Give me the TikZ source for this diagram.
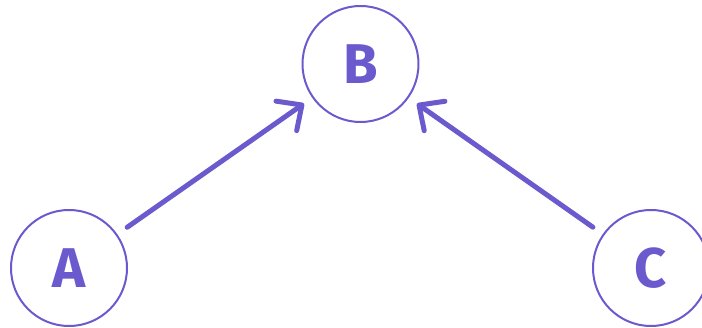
\documentclass[tikz,border=0pt]{standalone}
\usepackage{fontspec}
\setmainfont{Fira Sans}
\usetikzlibrary{arrows.meta}
\definecolor{violet}{HTML}{6A5ACD}
\tikzset{
  letter/.style={circle, draw=violet, line width=2pt, minimum size=116pt, inner sep=0pt,
    text=violet, font=\fontsize{56}{60}\selectfont\bfseries},
  link/.style={draw=violet, line width=5pt, line cap=round,
    -{Straight Barb[length=19pt, width=36pt, line cap=round, line join=round]},
    shorten <=12pt, shorten >=10pt}
}
\begin{document}
\begin{tikzpicture}[x=1pt, y=-1pt]
    \useasboundingbox (0,0) rectangle (702,328);
    \node[letter] (B) at (360.5,64) {B};
    \node[letter] (A) at (69,268) {A};
    \node[letter] (C) at (651,268) {C};
    \draw[link] (A) -- (B);
    \draw[link] (C) -- (B);
\end{tikzpicture}
\end{document}
